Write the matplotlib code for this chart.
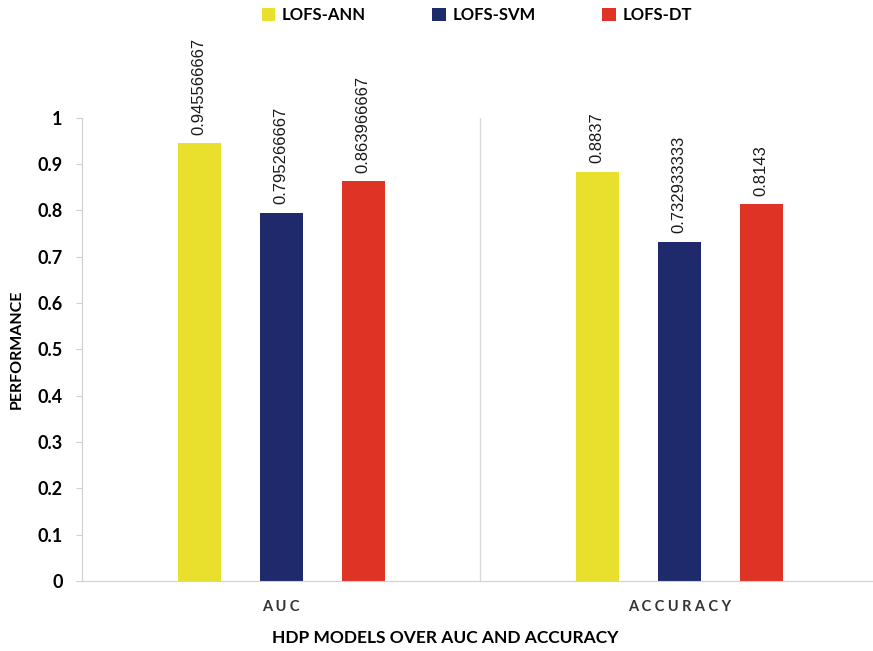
import numpy as np
import matplotlib.pyplot as plt

plt.rcParams['font.family'] = ['Lato', 'DejaVu Sans']

categories = ['A U C', 'A C C U R A C Y']
models = ['LOFS-ANN', 'LOFS-SVM', 'LOFS-DT']
ann = [0.945566667, 0.8837]
svm = [0.795266667, 0.732933333]
dt = [0.863966667, 0.8143]
value_labels = [['0.945566667', '0.8837'],
                ['0.795266667', '0.732933333'],
                ['0.863966667', '0.8143']]
colors = ['#E9E02D', '#1F2A6C', '#DE3325']

fig = plt.figure(figsize=(8.73, 6.51), dpi=100)
ax = fig.add_axes([0.094, 0.1075, 0.912, 0.7115])

x = np.arange(len(categories))
width = 0.108
offsets = [-0.206, 0.0, 0.206]

for series, off, col, name, labels in zip([ann, svm, dt], offsets, colors, models, value_labels):
    bars = ax.bar(x + off, series, width, color=col, label=name)
    for b, v, txt in zip(bars, series, labels):
        ax.text(b.get_x() + b.get_width() / 2, v + 0.018, txt, rotation=90,
                ha='center', va='bottom', fontsize=12, family='Liberation Sans',
                color='#1a1a1a', clip_on=False)

# separator between the two groups
ax.axvline(0.5, color='#d9d9d9', lw=1)

ax.set_xlim(-0.5, 1.5)
ax.set_ylim(0, 1)
ax.set_yticks(np.arange(0, 1.01, 0.1))
ax.set_yticklabels(['0', '0.1', '0.2', '0.3', '0.4', '0.5', '0.6', '0.7', '0.8', '0.9', '1'],
                   fontsize=13, fontweight='bold')
ax.set_xticks(x)
ax.set_xticklabels(categories, fontsize=10.5, fontweight='bold', color='#333333')
ax.tick_params(axis='x', length=0, pad=14)
ax.tick_params(axis='y', length=4, color='#d0d0d0', pad=10)

for s in ['top', 'right']:
    ax.spines[s].set_visible(False)
for s in ['left', 'bottom']:
    ax.spines[s].set_color('#d0d0d0')

ax.set_ylabel('PERFORMANCE', fontsize=11.5, fontweight='bold', labelpad=10)
ax.set_xlabel('HDP MODELS OVER AUC AND ACCURACY', fontsize=12.5, fontweight='bold', labelpad=12)
ax.xaxis.set_label_coords(0.456, -0.105)

fig.legend(loc='upper center', bbox_to_anchor=(0.546, 1.012), ncol=3, frameon=False,
           prop={'size': 12, 'weight': 'bold'}, handlelength=0.8, handleheight=0.8,
           handletextpad=0.4, columnspacing=4.0)

fig.savefig('out.png', dpi=100)
